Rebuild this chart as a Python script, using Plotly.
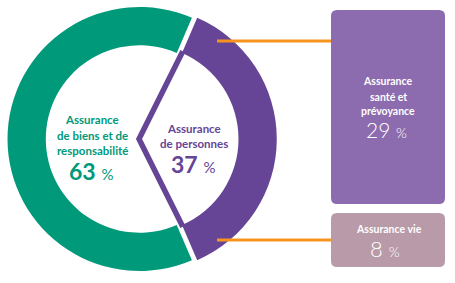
import math
import plotly.graph_objects as go

# ---- data ----
main_labels = ["Assurance de biens et de responsabilité", "Assurance de personnes"]
main_values = [63, 37]
sub_labels = ["Assurance santé et prévoyance", "Assurance vie"]
sub_values = [29, 8]

# ---- style / geometry ----
W, H = 455, 283
GREEN = "#00997A"
PURPLE = "#664596"
BOX1 = "#8C6BAE"
BOX2 = "#B89AA8"
ORANGE = "#F7941D"
FONT = "Lato"

cx, cy = 139.5, 139.0      # pie centre (px)
r_out = 132.0
hole = 0.71
pull = 0.04
r_in = r_out * hole
pull_px = pull * r_out

total = sum(main_values)
half = 360.0 * main_values[1] / total / 2.0   # half-angle of purple slice
rotation = 90 - (360.0 * main_values[0] / total) - half
rotation = (rotation + 360) % 360

box_r = r_out * (1 + pull)
fig = go.Figure()
fig.add_trace(go.Pie(
    labels=main_labels, values=main_values, sort=False, direction="clockwise",
    rotation=rotation, hole=hole, pull=[0, pull],
    marker=dict(colors=[GREEN, PURPLE], line=dict(width=0)),
    textinfo="none", hoverinfo="label+percent", showlegend=False,
    domain=dict(x=[(cx - box_r) / W, (cx + box_r) / W],
                y=[1 - (cy + box_r) / H, 1 - (cy - box_r) / H]),
))

shapes = []
# chevron: inner edges of the purple slice
pcx = cx + pull_px
t = math.radians(half)
re = r_in + 2
top = (pcx + re * math.cos(t), cy - re * math.sin(t))
bot = (pcx + re * math.cos(t), cy + re * math.sin(t))
apex = (cx - 0.5, cy)
shapes.append(dict(type="path", xref="x", yref="y",
                   path=f"M{top[0]},{top[1]} L{apex[0]},{apex[1]} L{bot[0]},{bot[1]}",
                   line=dict(color=PURPLE, width=5.5), layer="above"))


def rrect(x0, y0, x1, y1, r):
    return (f"M{x0+r},{y0} L{x1-r},{y0} Q{x1},{y0} {x1},{y0+r} L{x1},{y1-r} "
            f"Q{x1},{y1} {x1-r},{y1} L{x0+r},{y1} Q{x0},{y1} {x0},{y1-r} "
            f"L{x0},{y0+r} Q{x0},{y0} {x0+r},{y0} Z")


bx0, bx1 = 331, 445
boxes = [(10, 204, BOX1), (213, 267, BOX2)]
for (y0, y1, col) in boxes:
    shapes.append(dict(type="path", xref="x", yref="y", path=rrect(bx0, y0, bx1, y1, 6),
                       fillcolor=col, line=dict(width=0), layer="above"))

# orange connectors
for yy in (41, 240):
    shapes.append(dict(type="line", xref="x", yref="y", x0=217, x1=bx0, y0=yy, y1=yy,
                       line=dict(color=ORANGE, width=3), layer="above"))

ann = []


def txt(x, y, s, size, color, bold=False, weight=None):
    if bold:
        s = f"<b>{s}</b>"
    f = dict(family=FONT, size=size, color=color)
    if weight:
        f["weight"] = weight
    ann.append(dict(x=x, y=y, xref="x", yref="y", text=s, showarrow=False,
                    font=f, xanchor="center", yanchor="middle", align="center"))


def lines(x, ys, parts, size, color):
    for y, p in zip(ys, parts):
        txt(x, y, p, size, color, True)


# green label
lines(92, [119, 135, 150], ["Assurance", "de biens et de", "responsabilité"], 11.5, GREEN)
txt(91, 171, f"<b>{main_values[0]}</b> <span style='font-size:15px'>%</span>", 23, GREEN)
# purple label
lines(194, [128, 143], ["Assurance", "de personnes"], 11.5, PURPLE)
txt(193, 164, f"<b>{main_values[1]}</b> <span style='font-size:15px'>%</span>", 23, PURPLE)
# box 1
lines(388, [81, 97, 111], ["Assurance", "santé et", "prévoyance"], 10.5, "white")
txt(386, 129, f"{sub_values[0]} <span style='font-size:14px'>%</span>", 21, "white", weight=300)
# box 2
lines(389, [229], ["Assurance vie"], 10.5, "white")
txt(385, 248, f"{sub_values[1]} <span style='font-size:14px'>%</span>", 22, "white", weight=300)

fig.update_layout(
    width=W, height=H, margin=dict(l=0, r=0, t=0, b=0),
    paper_bgcolor="white", plot_bgcolor="white",
    xaxis=dict(range=[0, W], visible=False, fixedrange=True),
    yaxis=dict(range=[H, 0], visible=False, fixedrange=True),
    shapes=shapes, annotations=ann, showlegend=False,
)
fig.write_html("out.html")
